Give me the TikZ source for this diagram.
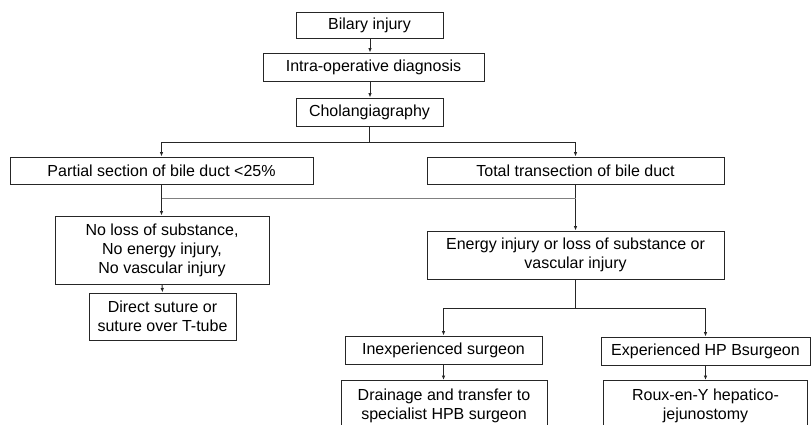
\documentclass[tikz,border=0pt]{standalone}
\usepackage{fontspec}
\setmainfont{Liberation Sans}
\usetikzlibrary{arrows.meta}
\begin{document}
\begin{tikzpicture}[x=1pt,y=-1pt,
  box/.style={draw=black!85,line width=0.9pt,inner sep=0pt,align=center,
    font=\fontsize{16}{19}\selectfont},
  arr/.style={draw=black!85,line width=0.9pt,-{Latex[length=4.5pt,width=3.5pt]}},
  grayline/.style={draw=black!50,line width=1.6pt}]
\clip (0,0) rectangle (811,424);
\fill[white] (0,0) rectangle (811,424);
% top chain
\node[box,minimum width=147pt,minimum height=26pt] (bil) at (369.5,25) {Bilary injury};
\node[box,minimum width=221pt,minimum height=28pt] (intra) at (373.5,67) {Intra-operative diagnosis};
\node[box,minimum width=147pt,minimum height=28pt] (chol) at (369.5,112) {Cholangiagraphy};
% first split
\node[box,minimum width=303pt,minimum height=27pt] (partial) at (161.5,170.5) {Partial section of bile duct <25\%};
\node[box,minimum width=297pt,minimum height=27pt] (total) at (575.5,170.5) {Total transection of bile duct};
% left branch
\node[box,minimum width=214pt,minimum height=68pt] (noloss) at (162,250) {No loss of substance,\\No energy injury,\\No vascular injury};
\node[box,minimum width=147pt,minimum height=47pt] (direct) at (162.5,316.5) {Direct suture or\\suture over T-tube};
% right branch
\node[box,minimum width=297pt,minimum height=48pt] (energy) at (575.5,255) {Energy injury or loss of substance or\\vascular injury};
\node[box,minimum width=197pt,minimum height=28pt] (inexp) at (443.5,350) {Inexperienced surgeon};
\node[box,minimum width=209pt,minimum height=28pt] (exp) at (705.5,351) {Experienced HP Bsurgeon};
\node[box,minimum width=206pt,minimum height=50pt,anchor=north] (drain) at (444,380) {Drainage and transfer to\\specialist HPB surgeon};
\node[box,minimum width=204pt,minimum height=50pt,anchor=north] (roux) at (705.5,380) {Roux-en-Y hepatico-\\jejunostomy};
% connectors
\draw[arr] (bil.south -| 370,0) -- (intra.north -| 370,0);
\draw[arr] (intra.south -| 370,0) -- (chol.north -| 370,0);
\draw[arr] (chol.south) -- ++(0,16) -| (partial.north);
\draw[arr] (chol.south) -- ++(0,16) -| (total.north);
\draw[arr] (partial.south) -- (partial.south |- noloss.north);
\draw[arr] (total.south) -- (energy.north);
\path (partial.south) ++(0,14) coordinate (jl);
\draw[grayline] (jl) -- (jl -| total.south);
\draw[arr] (noloss.south) -- (direct.north);
\draw[arr] (energy.south) -- ++(0,29) -| (inexp.north);
\draw[arr] (energy.south) -- ++(0,29) -| (exp.north);
\draw[arr] (inexp.south) -- (inexp.south |- drain.north);
\draw[arr] (exp.south) -- (exp.south |- roux.north);
\end{tikzpicture}
\end{document}
